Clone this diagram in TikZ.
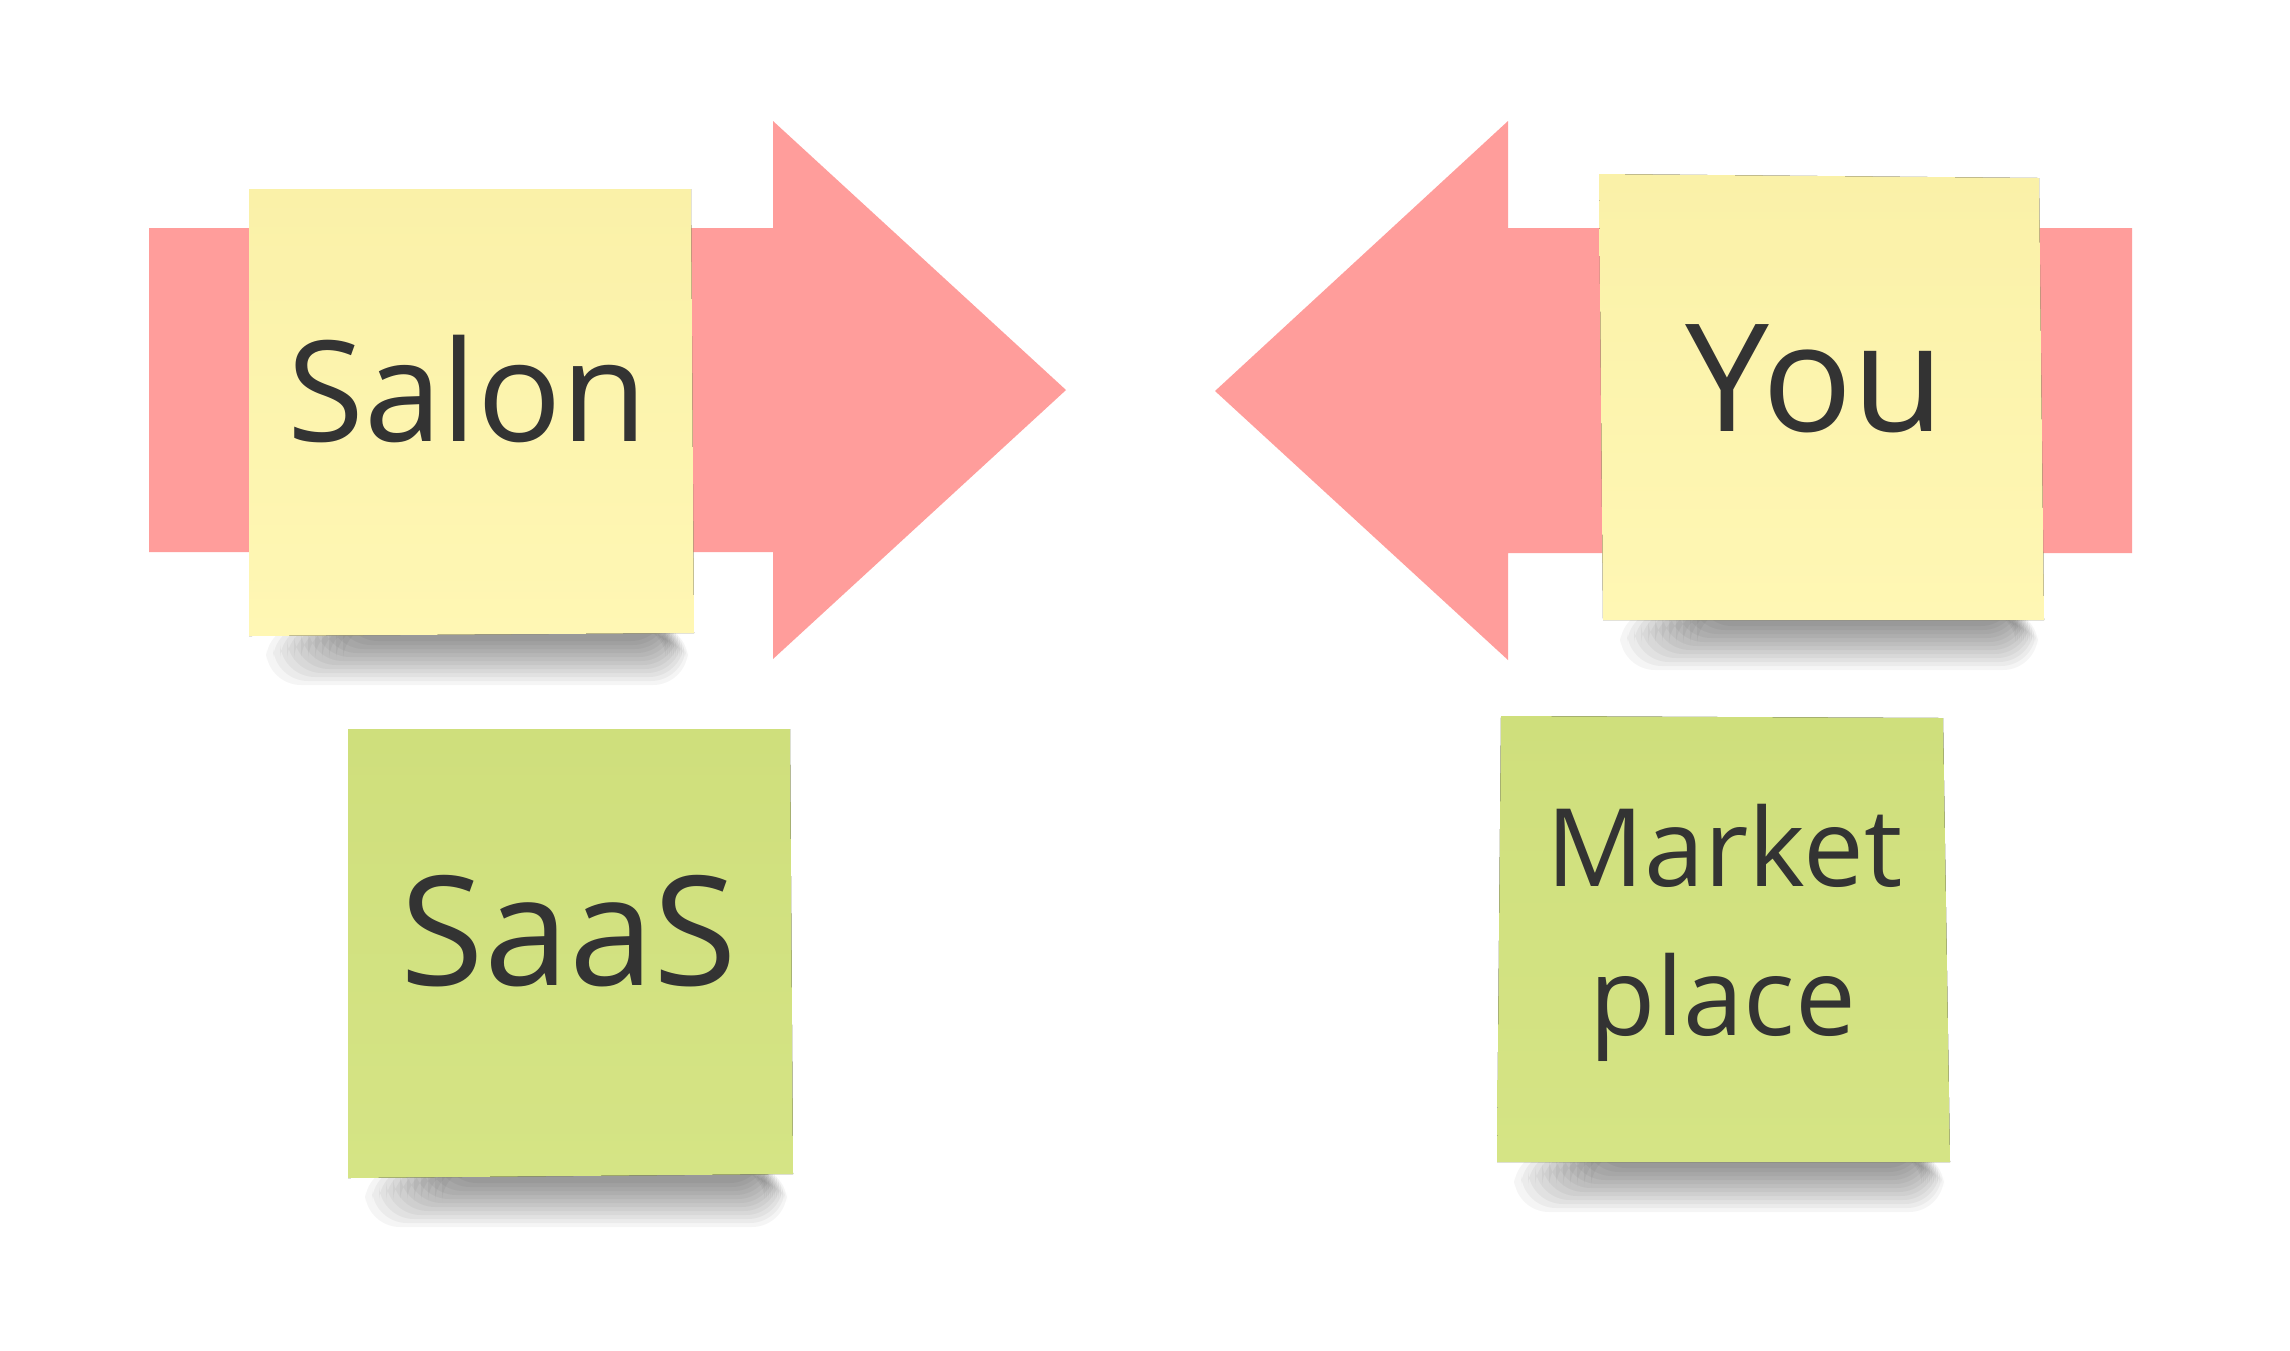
\documentclass[tikz,border=0pt]{standalone}
\usepackage{fontspec}
\setmainfont{Open Sans}
\usetikzlibrary{positioning,calc}
\definecolor{arrowpink}{HTML}{FF9D9B}
\definecolor{noteyellow}{HTML}{FFF7B4}
\definecolor{noteyellowtop}{HTML}{FAF1A8}
\definecolor{notegreen}{HTML}{D5E485}
\definecolor{notegreentop}{HTML}{CFDF7C}
\definecolor{ink}{HTML}{333333}

% soft shadow under the lower edge of a note: left x, right x, bottom y
\newcommand{\noteshadow}[3]{%
  \foreach \i in {1,...,12}{
    \fill[black,fill opacity=0.04,rounded corners=10pt]
      (#1+10+\i*7,#3-10) rectangle (#2-4-\i*2,#3+54-\i*4);
  }}

\begin{document}
\begin{tikzpicture}[x=0.01cm,y=-0.01cm,
  bigarrow/.style={fill=arrowpink},
  yellownote/.style={top color=noteyellowtop,bottom color=noteyellow},
  greennote/.style={top color=notegreentop,bottom color=notegreen},
  word/.style={text=ink,inner sep=0pt,anchor=base,font=\fontsize{#1pt}{#1pt}\selectfont},
]
  \fill[white] (0,0) rectangle (2290,1350);
  \useasboundingbox (0,0) rectangle (2290,1350);

  % arrows
  \fill[bigarrow] (149,228) -- (773,228) -- (773,121) -- (1066,390)
    -- (773,659) -- (773,552) -- (149,552) -- cycle;
  \fill[bigarrow] (2132,228) -- (1508,228) -- (1508,121) -- (1215,391)
    -- (1508,660) -- (1508,553) -- (2132,553) -- cycle;

  % notes
  \noteshadow{249}{694}{635}
  \fill[yellownote] (249,189) -- (691,189) -- (694,633) -- (249,636) -- cycle;
  \node[word=39.8] (salon) at (467.5,441) {Salon};

  \noteshadow{1603}{2044}{620}
  \fill[yellownote] (1599,174) -- (2039,178) -- (2044,620) -- (1603,620) -- cycle;
  \node[word=42.6] (you) at (1815,431.5) {You};

  \noteshadow{348}{793}{1177}
  \fill[greennote] (348,729) -- (790,729) -- (793,1174) -- (348,1178) -- cycle;
  \node[word=43.3] (saas) at (569,985.5) {SaaS};

  \noteshadow{1497}{1950}{1162}
  \fill[greennote] (1501,716) -- (1943,718) -- (1950,1162) -- (1497,1162) -- cycle;
  \node[word=30.8] (market) at (1724.5,886) {Market};
  \node[word=30.8] (place) at (1723,1035) {place};
\end{tikzpicture}
\end{document}
